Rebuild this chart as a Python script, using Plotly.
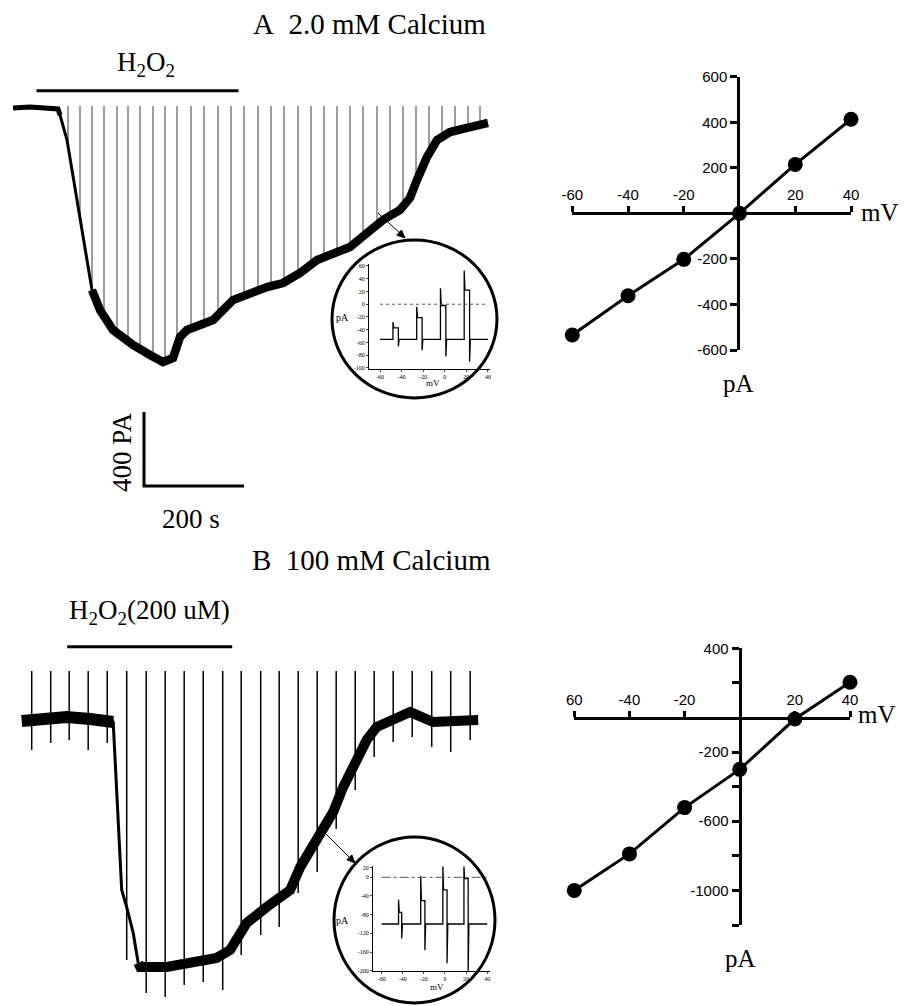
import plotly.graph_objects as go

W, H = 913, 1006

# ---------------- data ----------------
# Panel A: whole-cell current trace (time in s, current in pA)
timeA = [0, 34, 90, 94, 108, 134, 158, 174, 200, 240, 274, 300, 320, 334, 348, 400, 440, 474,
         508, 540, 574, 608, 640, 674, 708, 740, 774, 794, 808, 828, 848, 874, 908, 934, 950]
currA = [0, 5, -5, -38, -173, -605, -984, -1092, -1200, -1281, -1335, -1373, -1351, -1238, -1200,
         -1146, -1038, -1000, -968, -946, -892, -822, -784, -751, -676, -605, -551, -486, -389,
         -265, -173, -130, -108, -92, -81]
spikeTimeA = [110, 134, 158, 182, 208, 230, 254, 280, 304, 328, 356, 382, 410, 436, 462, 490, 516,
              542, 570, 596, 622, 648, 674, 700, 728, 754, 780, 806, 832, 858, 884, 910, 934]
spikeBottomA = [-205, -605, -984, -1124, -1216, -1259, -1303, -1346, -1367, -1286, -1189, -1162,
                -1119, -1049, -1012, -984, -962, -941, -897, -849, -805, -778, -751, -692, -632,
                -589, -530, -405, -254, -162, -130, -113, -97]
spikeTopA = 11
h2o2A = [47, 451]

# Panel B
timeB = [0, 47, 90, 137, 180, 183, 200, 210, 223, 233, 237, 290, 357, 390, 417, 430, 450, 490,
         523, 537, 557, 590, 623, 643, 667, 690, 710, 737, 777, 823, 913]
currB = [-5, 11, 16, 5, 0, -11, -919, -1011, -1151, -1313, -1335, -1335, -1308, -1286, -1243,
         -1189, -1097, -1011, -957, -919, -795, -649, -497, -362, -232, -108, -38, 0, 43, -11, 0]
spikeTimeB = [20, 58, 95, 133, 171, 210, 249, 287, 325, 363, 402, 439, 478, 515, 553, 591, 629,
              667, 705, 743, 781, 820, 858, 897]
spikeBottomB = [-162, -124, -108, -162, -124, -1297, -1476, -1497, -1432, -1416, -1459, -1270,
                -1162, -1119, -935, -822, -589, -378, -200, -119, -92, -146, -173, -108]
spikeTopB = 265
h2o2B = [91, 421]

# Scale bar
scaleBar_pA = 400
scaleBar_s = 200

# I-V relations
ivVoltage = [-60, -40, -20, 0, 20, 40]
ivCurrentA = [-534, -362, -202, 0, 215, 413]
ivCurrentB = [-1000, -789, -521, -300, -9, 204]

ivA_xticks = [-60, -40, -20, 20, 40]
ivA_xlabels = ["-60", "-40", "-20", "20", "40"]
ivA_yticks = [-600, -400, -200, 200, 400, 600]
ivA_ylabels = ["-600", "-400", "-200", "200", "400", "600"]
ivB_xticks = [-60, -40, -20, 20, 40]
ivB_xlabels = ["60", "-40", "-20", "20", "40"]
ivB_yticks = [400, -200, -600, -1000]
ivB_ylabels = ["400", "-200", "-600", "-1000"]
ivB_yminor = [200, -400, -800, -1200]

# Insets: voltage-step current responses
insA_on = [-48, -26, -4, 18]
insA_off = [-43, -21, 1, 23]
insA_peak = [-28, -4, 25, 53]
insA_plateau = [-37, -21, -2, 22]
insA_tail = [-66, -72, -82, -90]
insA_base = -55
insA_yticks = [60, 40, 20, 0, -20, -40, -60, -80, -100]
insA_ylabels = ["60", "40", "20", "0", "-20", "-40", "-60", "-80", "-100"]

insB_on = [-44, -23, -2, 18]
insB_off = [-41, -19, 2, 22]
insB_peak = [-48, 2, 23, 23]
insB_plateau = [-75, -50, -27, -3]
insB_tail = [-131, -156, -184, -200]
insB_base = -100
insB_yticks = [20, 0, -40, -80, -120, -160, -200]
insB_ylabels = ["20", "0", "-40", "-80", "-120", "-160", "-200"]
ins_xticks = [-60, -40, -20, 0, 20, 40]
ins_xlabels = ["-60", "-40", "-20", "0", "20", "40"]

# ---------------- helpers ----------------
def px(x):
    return x / W

def py(y):
    return 1 - y / H

def xdom(x0, x1):
    return [px(x0), px(x1)]

def ydom(y0, y1):
    return [py(y1), py(y0)]

SERIF = "Liberation Serif"
SANS = "Liberation Sans"
BLACK = "#000000"

def spikes(times, bottoms, top):
    xs, ys = [], []
    for t, b in zip(times, bottoms):
        xs += [t, t, None]
        ys += [b, top, None]
    return xs, ys

def step_wave(on, off, peak, plat, tail, base, x0, x1):
    xs, ys = [x0], [base]
    for a, b, p, q, t in zip(on, off, peak, plat, tail):
        xs += [a, a, a + 0.7, b, b, b + 0.7]
        ys += [base, p, q, q, t, base]
    xs.append(x1)
    ys.append(base)
    return xs, ys

fig = go.Figure()

# ---------- Panel A trace ----------
sx, sy = spikes(spikeTimeA, spikeBottomA, spikeTopA)
fig.add_trace(go.Scatter(x=sx, y=sy, mode="lines", line=dict(color="#3a3a3a", width=1),
                         xaxis="x", yaxis="y", hoverinfo="skip"))
fig.add_trace(go.Scatter(x=timeA[:4], y=currA[:4], mode="lines", line=dict(color=BLACK, width=5),
                         xaxis="x", yaxis="y"))
fig.add_trace(go.Scatter(x=timeA[2:8], y=currA[2:8], mode="lines", line=dict(color=BLACK, width=3),
                         xaxis="x", yaxis="y"))
fig.add_trace(go.Scatter(x=timeA[6:], y=currA[6:], mode="lines",
                         line=dict(color=BLACK, width=8.5), xaxis="x", yaxis="y"))
# H2O2 bar
fig.add_trace(go.Scatter(x=h2o2A, y=[93, 93], mode="lines", line=dict(color=BLACK, width=3),
                         xaxis="x", yaxis="y"))
# scale bar
sb_t0, sb_i0 = 262, -2043
fig.add_trace(go.Scatter(x=[sb_t0, sb_t0, sb_t0 + scaleBar_s],
                         y=[sb_i0 + scaleBar_pA, sb_i0, sb_i0], mode="lines",
                         line=dict(color=BLACK, width=3), xaxis="x", yaxis="y"))

# ---------- Panel B trace ----------
sx, sy = spikes(spikeTimeB, spikeBottomB, spikeTopB)
fig.add_trace(go.Scatter(x=sx, y=sy, mode="lines", line=dict(color=BLACK, width=1.5),
                         xaxis="x4", yaxis="y4"))
fig.add_trace(go.Scatter(x=timeB[:6], y=currB[:6], mode="lines", line=dict(color=BLACK, width=12),
                         xaxis="x4", yaxis="y4"))
fig.add_trace(go.Scatter(x=timeB[4:10], y=currB[4:10], mode="lines", line=dict(color=BLACK, width=3),
                         xaxis="x4", yaxis="y4"))
fig.add_trace(go.Scatter(x=timeB[9:], y=currB[9:], mode="lines", line=dict(color=BLACK, width=10),
                         xaxis="x4", yaxis="y4"))
fig.add_trace(go.Scatter(x=h2o2B, y=[396, 396], mode="lines", line=dict(color=BLACK, width=3),
                         xaxis="x4", yaxis="y4"))

# ---------- I-V plots ----------
fig.add_trace(go.Scatter(x=ivVoltage, y=ivCurrentA, mode="lines+markers",
                         line=dict(color=BLACK, width=3), marker=dict(color=BLACK, size=15),
                         cliponaxis=False, xaxis="x2", yaxis="y2"))
fig.add_trace(go.Scatter(x=ivVoltage, y=ivCurrentB, mode="lines+markers",
                         line=dict(color=BLACK, width=3), marker=dict(color=BLACK, size=15),
                         cliponaxis=False, xaxis="x5", yaxis="y5"))

# ---------- insets ----------
ix, iy = step_wave(insA_on, insA_off, insA_peak, insA_plateau, insA_tail, insA_base, -60, 40)
fig.add_trace(go.Scatter(x=ix, y=iy, mode="lines", line=dict(color=BLACK, width=1.3),
                         cliponaxis=False, xaxis="x3", yaxis="y3"))
ix, iy = step_wave(insB_on, insB_off, insB_peak, insB_plateau, insB_tail, insB_base, -60, 40)
fig.add_trace(go.Scatter(x=ix, y=iy, mode="lines", line=dict(color=BLACK, width=1.3),
                         cliponaxis=False, xaxis="x6", yaxis="y6"))

# ---------------- layout ----------------
hidden = dict(visible=False, fixedrange=True, automargin=False)

def trace_axes(x0, x1, y0, y1, ox, oy):
    # time axis: 0.5 px per s ; current axis: 0.185 px per pA
    xr = [(x0 - ox) / 0.5, (x1 - ox) / 0.5]
    yr = [(oy - y1) / 0.185, (oy - y0) / 0.185]
    return (dict(domain=xdom(x0, x1), range=xr, **hidden),
            dict(domain=ydom(y0, y1), range=yr, **hidden))

xa, ya = trace_axes(5, 500, 40, 495, 13, 108)
xb, yb = trace_axes(5, 500, 590, 1006, 21.7, 720)

iv_font = dict(family=SANS, size=15, color=BLACK)

def iv_xaxis(x0, x1, zero_y, tv, tt):
    return dict(domain=xdom(x0, x1), range=[-60, 40], anchor="free", position=py(zero_y),
                side="top", showline=True, linecolor=BLACK, linewidth=3, ticks="outside",
                ticklen=6, tickwidth=2.5, tickcolor=BLACK, tickvals=tv, ticktext=tt,
                tickfont=iv_font, showgrid=False, zeroline=False, fixedrange=True,
                automargin=False)

def iv_yaxis(y0, y1, rng, zero_x, tv, tt, minor=None):
    d = dict(domain=ydom(y0, y1), range=rng, anchor="free", position=px(zero_x),
             side="left", showline=True, linecolor=BLACK, linewidth=3, ticks="outside",
             ticklen=7, tickwidth=2.5, tickcolor=BLACK, tickvals=tv, ticktext=tt,
             tickfont=iv_font, showgrid=False, zeroline=False, fixedrange=True,
             automargin=False)
    if minor is not None:
        d["minor"] = dict(tickvals=minor, ticks="outside", ticklen=7, tickwidth=2.5,
                          tickcolor=BLACK, showgrid=False)
    return d

ins_font = dict(family=SERIF, size=6, color=BLACK)

def ins_axes(x0, x1, y0, y1, xr, yr, ytv, ytt, xa_name, ya_name):
    xd = dict(domain=xdom(x0, x1), range=xr, anchor=ya_name, showline=True, linecolor=BLACK,
              linewidth=1, ticks="outside", ticklen=2, tickwidth=1, tickvals=ins_xticks,
              ticktext=ins_xlabels, tickfont=ins_font, showgrid=False, zeroline=False,
              fixedrange=True, automargin=False)
    yd = dict(domain=ydom(y0, y1), range=yr, anchor=xa_name, showline=True, linecolor=BLACK,
              linewidth=1, ticks="outside", ticklen=2, tickwidth=1, tickvals=ytv, ticktext=ytt,
              tickfont=ins_font, showgrid=False, zeroline=False, fixedrange=True,
              automargin=False)
    return xd, yd

x3, y3 = ins_axes(369, 490, 264, 368.5, [-70.2, 41.9], [-100.8, 63.1], insA_yticks, insA_ylabels,
                  "x3", "y3")
x6, y6 = ins_axes(373, 490, 866, 971, [-68.2, 42.7], [-200.6, 24.2], insB_yticks, insB_ylabels,
                  "x6", "y6")

fig.update_layout(
    template="none",
    width=W, height=H, autosize=False,
    margin=dict(l=0, r=0, t=0, b=0, pad=0, autoexpand=False),
    paper_bgcolor="white", plot_bgcolor="rgba(0,0,0,0)",
    showlegend=False,
    xaxis=xa, yaxis=ya,
    xaxis4=xb, yaxis4=yb,
    xaxis2=iv_xaxis(572.3, 851, 213.3, ivA_xticks, ivA_xlabels),
    yaxis2=iv_yaxis(76.7, 350, [-600, 600], 738.3, ivA_yticks, ivA_ylabels),
    xaxis5=iv_xaxis(574.3, 850, 717.8, ivB_xticks, ivB_xlabels),
    yaxis5=iv_yaxis(648.3, 925, [-1200, 400], 739.6, ivB_yticks, ivB_ylabels, ivB_yminor),
    xaxis3=x3, yaxis3=y3, xaxis6=x6, yaxis6=y6,
)

# zero reference lines inside the insets
fig.add_shape(type="line", xref="x3", yref="y3", x0=-60, x1=40, y0=0, y1=0,
              line=dict(color="#555555", width=1, dash="dot"))
fig.add_shape(type="line", xref="x6", yref="y6", x0=-60, x1=40, y0=0, y1=0,
              line=dict(color="#555555", width=1, dash="dashdot"))

# magnifier circles
fig.add_shape(type="circle", xref="paper", yref="paper",
              x0=px(332), x1=px(497), y0=py(398), y1=py(240),
              line=dict(color=BLACK, width=3))
fig.add_shape(type="circle", xref="paper", yref="paper",
              x0=px(334), x1=px(495), y0=py(1003), y1=py(837),
              line=dict(color=BLACK, width=3))

def label(text, x, y, size, family=SERIF, angle=0):
    fig.add_annotation(text=text, x=px(x), y=py(y), xref="paper", yref="paper",
                       showarrow=False, xanchor="center", yanchor="middle", textangle=angle,
                       font=dict(family=family, size=size, color=BLACK))

NB = "\u00a0"
label("A" + NB + NB + "2.0" + NB + "mM Calcium", 369, 24, 29)
label("H<sub>2</sub>O<sub>2</sub>", 146, 64, 27)
label("400 PA", 122, 452, 27, angle=-90)
label("200 s", 191, 519, 27)
label("B" + NB + NB + "100" + NB + "mM Calcium", 371, 560, 29)
label("H<sub>2</sub>O<sub>2</sub>(200 uM)", 149, 612, 27)
label("mV", 880, 212, 25)
label("pA", 738, 383, 25)
label("mV", 877, 714, 25)
label("pA", 740, 958, 25)
# inset labels
label("pA", 342, 318, 10)
label("mV", 433, 383, 9)
label("pA", 342, 920, 10)
label("mV", 437, 987, 9)

# arrows pointing to the insets (line + filled head)
for (hx, hy, tx, ty) in [(405, 238, 378, 213), (355, 863, 325, 833)]:
    fig.add_shape(type="line", xref="paper", yref="paper",
                  x0=px(tx), y0=py(ty), x1=px(hx - 3), y1=py(hy - 3),
                  line=dict(color=BLACK, width=1))
    dx, dy = hx - tx, hy - ty
    n = (dx * dx + dy * dy) ** 0.5
    ux, uy = dx / n, dy / n
    bx, by = hx - 8 * ux, hy - 8 * uy
    p1 = (bx - 3.5 * uy, by + 3.5 * ux)
    p2 = (bx + 3.5 * uy, by - 3.5 * ux)
    path = "M {} {} L {} {} L {} {} Z".format(px(hx), py(hy), px(p1[0]), py(p1[1]),
                                               px(p2[0]), py(p2[1]))
    fig.add_shape(type="path", xref="paper", yref="paper", path=path,
                  fillcolor=BLACK, line=dict(color=BLACK, width=1))

fig.write_html("out.html", config={"displayModeBar": False},
               post_script="document.body.style.margin='0';")
